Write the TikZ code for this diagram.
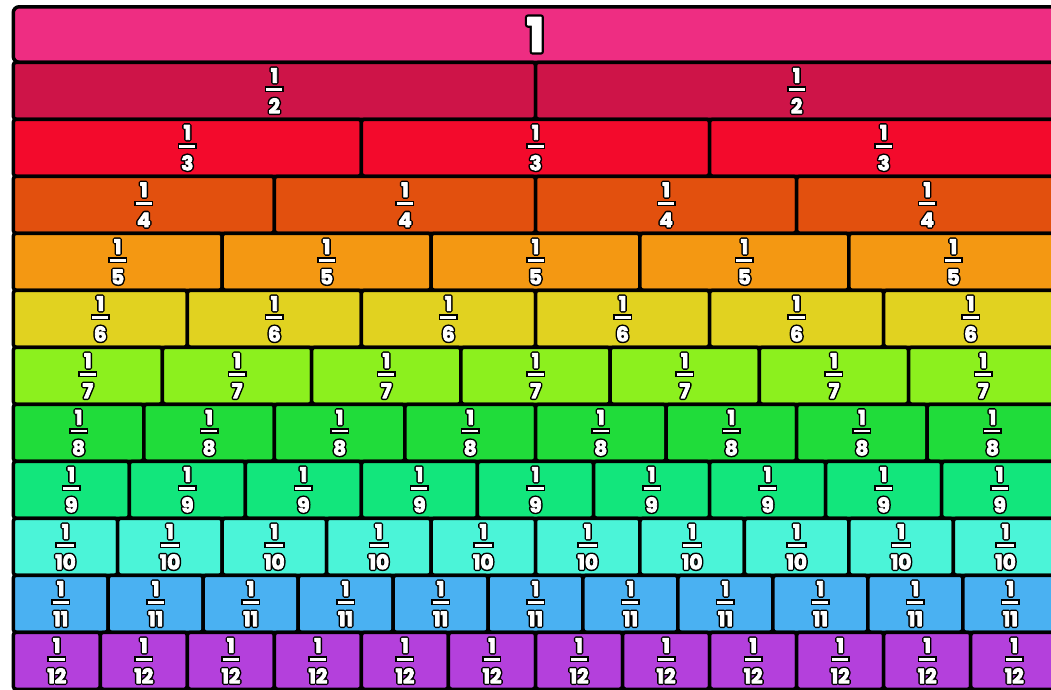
\documentclass[tikz,border=0pt]{standalone}
\usepackage{fontspec}
\setmainfont{Poppins}
\definecolor{c1}{HTML}{EE2D82}
\definecolor{c2}{HTML}{CE1448}
\definecolor{c3}{HTML}{F30A2C}
\definecolor{c4}{HTML}{E2500E}
\definecolor{c5}{HTML}{F49812}
\definecolor{c6}{HTML}{E1D220}
\definecolor{c7}{HTML}{8CF01E}
\definecolor{c8}{HTML}{20DC3A}
\definecolor{c9}{HTML}{12E67C}
\definecolor{c10}{HTML}{4BF4D8}
\definecolor{c11}{HTML}{4AB1F2}
\definecolor{c12}{HTML}{B440DC}
\newdimen\barw
\newsavebox\denbox
% fraction body; #2 = how much the bar is widened (for the black outline layer)
\newcommand\fraccore[2]{%
  \vbox{\offinterlineskip
    \hbox to\barw{\hss 1\hss}\kern\dimexpr5pt-#2\relax
    \hbox to\barw{\hss\vrule width\dimexpr\barw+#2*2\relax
       height\dimexpr2.8pt+#2*2\relax depth0pt\hss}%
    \kern\dimexpr7.8pt-#2\relax
    \hbox to\barw{\hss #1\hss}}}
\newcommand\frlabel[1]{%
  \sbox\denbox{#1}\barw=\wd\denbox \advance\barw by -3pt
  \ifdim\barw<16pt \barw=16pt\fi
  \leavevmode\rlap{\special{pdf:literal direct q 0 g 0 G 3.8 w 1 j 2 Tr}%
    \fraccore{#1}{1.5pt}\special{pdf:literal direct Q}}%
  \rlap{\special{pdf:literal direct q 1 g 1 G 0.8 w 1 j 2 Tr}%
    \fraccore{#1}{0pt}\special{pdf:literal direct Q}}%
  \phantom{\fraccore{#1}{0pt}}}
\newcommand\bigone{%
  \leavevmode\rlap{\special{pdf:literal direct q 0 g 0 G 6 w 1 j 2 Tr}1%
    \special{pdf:literal direct Q}}%
  \rlap{\special{pdf:literal direct q 1 g 1 G 1.4 w 1 j 2 Tr}1%
    \special{pdf:literal direct Q}}\phantom{1}}
\begin{document}
\begin{tikzpicture}[x=1pt,y=-1pt,
  cell/.style={draw=black, line width=3.5pt, rounded corners=3pt, inner sep=0pt,
    text=white, anchor=north west, font=\fontsize{20}{20}\selectfont\bfseries}]
\useasboundingbox (0,0) rectangle (1051,689);
\clip (0,0) rectangle (1051,689);
\fill[white] (0,0) rectangle (1051,689);
\node[cell, fill=c1, rounded corners=6pt, minimum width=1044.5pt, minimum height=55.5pt,
  font=\fontsize{47}{47}\selectfont\bfseries] (whole) at (11.5,5) {\bigone};
\foreach \n in {2,...,12}{
  \pgfmathsetmacro\w{1044.5/\n}
  \pgfmathsetmacro\t{60.5+57*(\n-2)}
  \foreach \i in {1,...,\n}{
    \node[cell, fill=c\n, minimum width=\w pt, minimum height=57pt] (r\n-\i)
      at ({11.5+\w*(\i-1)},\t) {\frlabel{\n}};
  }
}
\end{tikzpicture}
\end{document}
